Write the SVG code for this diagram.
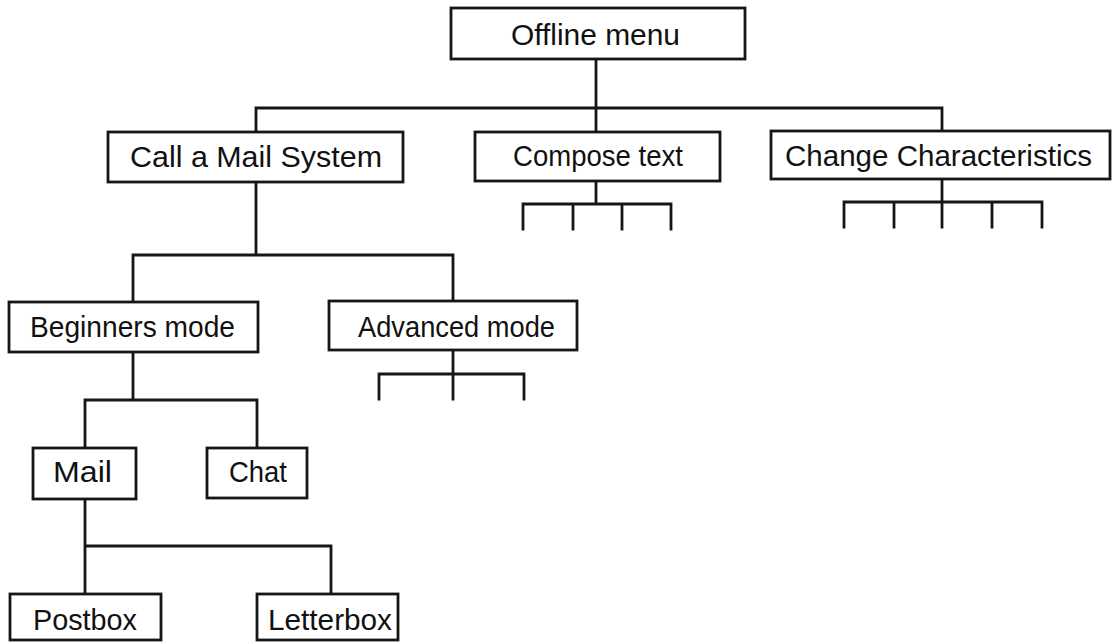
<svg xmlns="http://www.w3.org/2000/svg" width="1112" height="644" viewBox="0 0 1112 644">
  <style>
    .box { fill: #ffffff; stroke: #161616; stroke-width: 2.8; }
    .lbl { font-family: "Liberation Sans", Arial, Helvetica, sans-serif; font-size: 30px; fill: #111111; text-anchor: start; }
    .wire { fill: none; stroke: #161616; stroke-width: 2.8; stroke-linecap: square; }
  </style>
  <rect width="1112" height="644" fill="#ffffff"/>

  <!-- tree connectors -->
  <g id="connectors">
    <!-- root to first level -->
    <path class="wire" d="M596 59 V132 M256 132 V108 H942 V132"/>
    <!-- Compose text: four sub-items -->
    <path class="wire" d="M596 181 V204 M523 229 V204 H671 V229 M573 204 V229 M622 204 V229"/>
    <!-- Change Characteristics: five sub-items -->
    <path class="wire" d="M942 179 V202 M844 227 V202 H1042 V227 M894 202 V227 M942 202 V227 M992 202 V227"/>
    <!-- Call a Mail System to modes -->
    <path class="wire" d="M256 182 V255 M133 302 V255 H453 V301"/>
    <!-- Advanced mode: three sub-items -->
    <path class="wire" d="M453 350 V374 M379 399 V374 H524 V399 M453 374 V399"/>
    <!-- Beginners mode to Mail / Chat -->
    <path class="wire" d="M133 352 V400 M85 448 V400 H257 V448"/>
    <!-- Mail to Postbox / Letterbox -->
    <path class="wire" d="M85 499 V546 H331 V594 M85 546 V594"/>
  </g>

  <g id="offline-menu">
    <rect class="box" x="451" y="8" width="294" height="51"/>
    <text class="lbl" x="511" y="45" textLength="169" lengthAdjust="spacingAndGlyphs">Offline menu</text>
  </g>

  <g id="call-mail-system">
    <rect class="box" x="108" y="132" width="295" height="50"/>
    <text class="lbl" x="130" y="167" textLength="252" lengthAdjust="spacingAndGlyphs">Call a Mail System</text>
  </g>

  <g id="compose-text">
    <rect class="box" x="475" y="132" width="245" height="49"/>
    <text class="lbl" x="513" y="166" textLength="170" lengthAdjust="spacingAndGlyphs">Compose text</text>
  </g>

  <g id="change-characteristics">
    <rect class="box" x="771" y="131" width="339" height="48"/>
    <text class="lbl" x="785" y="166" textLength="307" lengthAdjust="spacingAndGlyphs">Change Characteristics</text>
  </g>

  <g id="beginners-mode">
    <rect class="box" x="9" y="302" width="249" height="50"/>
    <text class="lbl" x="30" y="337" textLength="205" lengthAdjust="spacingAndGlyphs">Beginners mode</text>
  </g>

  <g id="advanced-mode">
    <rect class="box" x="329" y="301" width="248" height="49"/>
    <text class="lbl" x="358" y="337" textLength="197" lengthAdjust="spacingAndGlyphs">Advanced mode</text>
  </g>

  <g id="mail">
    <rect class="box" x="33" y="448" width="103" height="51"/>
    <text class="lbl" x="53" y="482" textLength="59" lengthAdjust="spacingAndGlyphs">Mail</text>
  </g>

  <g id="chat">
    <rect class="box" x="207" y="448" width="100" height="50"/>
    <text class="lbl" x="229" y="482" textLength="58" lengthAdjust="spacingAndGlyphs">Chat</text>
  </g>

  <g id="postbox">
    <rect class="box" x="10" y="594" width="151" height="46"/>
    <text class="lbl" x="33" y="630" textLength="104" lengthAdjust="spacingAndGlyphs">Postbox</text>
  </g>

  <g id="letterbox">
    <rect class="box" x="257" y="594" width="141" height="46"/>
    <text class="lbl" x="268" y="630" textLength="124" lengthAdjust="spacingAndGlyphs">Letterbox</text>
  </g>
</svg>
